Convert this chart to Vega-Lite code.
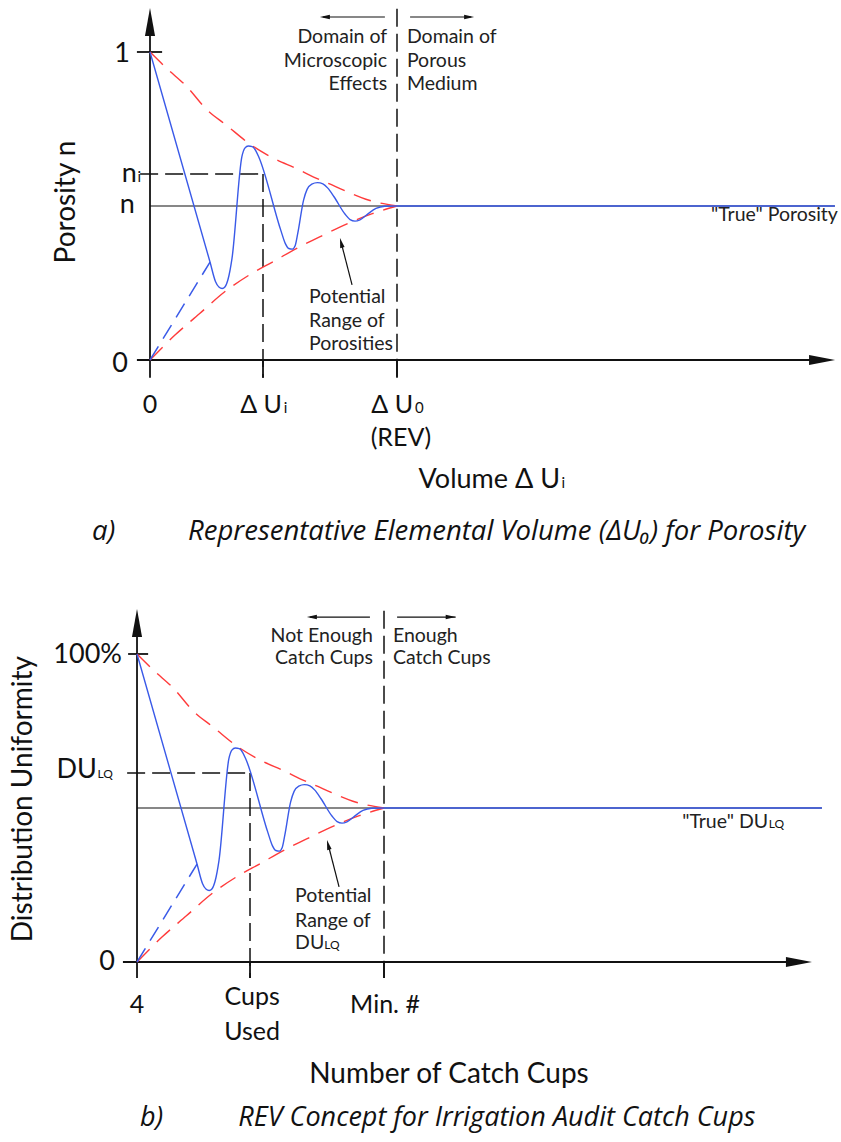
{
  "$schema": "https://vega.github.io/schema/vega-lite/v6.json",
  "padding": 0,
  "spacing": 0,
  "background": "white",
  "config": {"view": {"stroke": null}, "text": {"font": "Lato", "color": "#111"}},
  "resolve": {"scale": {"x": "independent", "y": "independent"}},
  "datasets": {
    "blue": [
      {"x": 0, "y": 1}, {"x": 0.243, "y": 0.318}, {"x": 0.265, "y": 0.255}, {"x": 0.28, "y": 0.236},
      {"x": 0.292, "y": 0.232}, {"x": 0.304, "y": 0.238}, {"x": 0.316, "y": 0.262}, {"x": 0.332, "y": 0.33},
      {"x": 0.372, "y": 0.66}, {"x": 0.384, "y": 0.688}, {"x": 0.398, "y": 0.695}, {"x": 0.414, "y": 0.693},
      {"x": 0.428, "y": 0.68}, {"x": 0.44, "y": 0.66}, {"x": 0.53, "y": 0.42}, {"x": 0.548, "y": 0.378},
      {"x": 0.562, "y": 0.362}, {"x": 0.576, "y": 0.36}, {"x": 0.588, "y": 0.372}, {"x": 0.598, "y": 0.41},
      {"x": 0.622, "y": 0.52}, {"x": 0.636, "y": 0.554}, {"x": 0.655, "y": 0.571}, {"x": 0.678, "y": 0.576},
      {"x": 0.7, "y": 0.572}, {"x": 0.72, "y": 0.558}, {"x": 0.745, "y": 0.53}, {"x": 0.79, "y": 0.473},
      {"x": 0.81, "y": 0.456}, {"x": 0.83, "y": 0.451}, {"x": 0.85, "y": 0.455}, {"x": 0.88, "y": 0.473},
      {"x": 0.915, "y": 0.492}, {"x": 0.95, "y": 0.499}, {"x": 1, "y": 0.5}, {"x": 2.773, "y": 0.5}
    ],
    "blueDash": [{"x": 0, "y": 0}, {"x": 0.243, "y": 0.318}],
    "envelope": [
      {"bound": "upper", "x": 0, "y": 1}, {"bound": "upper", "x": 0.07, "y": 0.945}, {"bound": "upper", "x": 0.146, "y": 0.89},
      {"bound": "upper", "x": 0.231, "y": 0.812}, {"bound": "upper", "x": 0.308, "y": 0.763}, {"bound": "upper", "x": 0.413, "y": 0.696},
      {"bound": "upper", "x": 0.5, "y": 0.655}, {"bound": "upper", "x": 0.591, "y": 0.622}, {"bound": "upper", "x": 0.688, "y": 0.585},
      {"bound": "upper", "x": 0.741, "y": 0.567}, {"bound": "upper", "x": 0.81, "y": 0.542}, {"bound": "upper", "x": 0.874, "y": 0.522},
      {"bound": "upper", "x": 1, "y": 0.5},
      {"bound": "lower", "x": 0, "y": 0}, {"bound": "lower", "x": 0.1, "y": 0.08}, {"bound": "lower", "x": 0.2, "y": 0.15},
      {"bound": "lower", "x": 0.3, "y": 0.22}, {"bound": "lower", "x": 0.4, "y": 0.275}, {"bound": "lower", "x": 0.5, "y": 0.32},
      {"bound": "lower", "x": 0.6, "y": 0.365}, {"bound": "lower", "x": 0.7, "y": 0.405}, {"bound": "lower", "x": 0.8, "y": 0.443},
      {"bound": "lower", "x": 0.9, "y": 0.475}, {"bound": "lower", "x": 1, "y": 0.5}
    ],
    "axesA": [
      {"x": 0, "y": -0.058, "x2": 0, "y2": 1.09},
      {"x": -0.053, "y": 0, "x2": 2.7, "y2": 0},
      {"x": -0.053, "y": 1, "x2": 0.049, "y2": 1},
      {"x": 0.4575, "y": 0, "x2": 0.4575, "y2": -0.058},
      {"x": 1, "y": 0, "x2": 1, "y2": -0.058}
    ],
    "thinA": [
      {"x": 0, "y": 0.5, "x2": 2.773, "y2": 0.5},
      {"x": 0.7, "y": 1.1136, "x2": 0.951, "y2": 1.1136},
      {"x": 1.053, "y": 1.1136, "x2": 1.3, "y2": 1.1136},
      {"x": 0.818, "y": 0.244, "x2": 0.776, "y2": 0.375}
    ],
    "dashA": [
      {"x": -0.04, "y": 0.604, "x2": 0.4575, "y2": 0.604},
      {"x": 0.4575, "y": 0.604, "x2": 0.4575, "y2": -0.058},
      {"x": 1, "y": 1.14, "x2": 1, "y2": -0.058}
    ],
    "textA": [
      {"kind": "ylabel", "x": -0.081, "y": 0.9675, "text": "1"},
      {"kind": "ylabel", "x": -0.053, "y": 0.578, "text": "n"},
      {"kind": "ylabel", "x": -0.061, "y": 0.477, "text": "n"},
      {"kind": "ylabel", "x": -0.089, "y": -0.039, "text": "0"},
      {"kind": "sub", "x": -0.051, "y": 0.578, "text": "i"},
      {"kind": "xlabel", "x": 0, "y": -0.172, "text": "0"},
      {"kind": "xlabel", "x": 1.016, "y": -0.279, "text": "(REV)"},
      {"kind": "xlabelR", "x": 0.534, "y": -0.172, "text": "Δ U"},
      {"kind": "xlabelR", "x": 1.065, "y": -0.172, "text": "Δ U"},
      {"kind": "titleR", "x": 1.66, "y": -0.416, "text": "Volume Δ U"},
      {"kind": "sub", "x": 0.541, "y": -0.172, "text": "i"},
      {"kind": "sub", "x": 1.073, "y": -0.172, "text": "0"},
      {"kind": "sub", "x": 1.666, "y": -0.416, "text": "i"},
      {"kind": "noteR", "x": 0.96, "y": 1.029, "text": "Domain of"},
      {"kind": "noteR", "x": 0.96, "y": 0.951, "text": "Microscopic"},
      {"kind": "noteR", "x": 0.96, "y": 0.877, "text": "Effects"},
      {"kind": "noteL", "x": 1.04, "y": 1.029, "text": "Domain of"},
      {"kind": "noteL", "x": 1.04, "y": 0.951, "text": "Porous"},
      {"kind": "noteL", "x": 1.04, "y": 0.877, "text": "Medium"},
      {"kind": "noteL", "x": 0.644, "y": 0.185, "text": "Potential"},
      {"kind": "noteL", "x": 0.644, "y": 0.107, "text": "Range of"},
      {"kind": "noteL", "x": 0.644, "y": 0.032, "text": "Porosities"},
      {"kind": "noteR", "x": 2.785, "y": 0.451, "text": "\"True\" Porosity"},
      {"kind": "ytitle", "x": -0.336, "y": 0.513, "text": "Porosity n"},
      {"kind": "caption", "x": -0.235, "y": -0.584, "text": "a)"},
      {"kind": "caption", "x": 0.154, "y": -0.584, "text": "Representative Elemental Volume (ΔU₀) for Porosity"}
    ],
    "yArrowA": [{"x": 0, "y": 1.097}],
    "xArrowA": [{"x": 2.721, "y": 0}],
    "leftArrowA": [{"x": 0.708, "y": 1.1136}],
    "rightArrowA": [{"x": 1.292, "y": 1.1136}],
    "leader": [{"x": 0.774, "y": 0.3805}],
    "axesB": [
      {"x": 0, "y": -0.052, "x2": 0, "y2": 1.09},
      {"x": -0.057, "y": 0, "x2": 2.66, "y2": 0},
      {"x": -0.036, "y": 1, "x2": 0.045, "y2": 1},
      {"x": 0.4575, "y": 0, "x2": 0.4575, "y2": -0.052},
      {"x": 1, "y": 0, "x2": 1, "y2": -0.052}
    ],
    "thinB": [
      {"x": 0, "y": 0.5, "x2": 2.773, "y2": 0.5},
      {"x": 0.7, "y": 1.12, "x2": 0.943, "y2": 1.12},
      {"x": 1.053, "y": 1.12, "x2": 1.29, "y2": 1.12},
      {"x": 0.818, "y": 0.244, "x2": 0.776, "y2": 0.375}
    ],
    "dashB": [
      {"x": -0.04, "y": 0.614, "x2": 0.4575, "y2": 0.614},
      {"x": 0.4575, "y": 0.614, "x2": 0.4575, "y2": -0.052},
      {"x": 1, "y": 1.14, "x2": 1, "y2": -0.052}
    ],
    "textB": [
      {"kind": "ylabel", "x": -0.061, "y": 0.971, "text": "100%"},
      {"kind": "ylabel", "x": -0.162, "y": 0.597, "text": "DU"},
      {"kind": "ylabel", "x": -0.089, "y": -0.026, "text": "0"},
      {"kind": "subsmall", "x": -0.16, "y": 0.597, "text": "LQ"},
      {"kind": "xlabel", "x": 0, "y": -0.166, "text": "4"},
      {"kind": "xlabel", "x": 0.466, "y": -0.14, "text": "Cups"},
      {"kind": "xlabel", "x": 0.466, "y": -0.253, "text": "Used"},
      {"kind": "xlabel", "x": 1.004, "y": -0.166, "text": "Min. #"},
      {"kind": "title", "x": 1.263, "y": -0.393, "text": "Number of Catch Cups"},
      {"kind": "noteR", "x": 0.955, "y": 1.039, "text": "Not Enough"},
      {"kind": "noteR", "x": 0.955, "y": 0.968, "text": "Catch Cups"},
      {"kind": "noteL", "x": 1.036, "y": 1.039, "text": "Enough"},
      {"kind": "noteL", "x": 1.036, "y": 0.968, "text": "Catch Cups"},
      {"kind": "noteL", "x": 0.64, "y": 0.195, "text": "Potential"},
      {"kind": "noteL", "x": 0.64, "y": 0.114, "text": "Range of"},
      {"kind": "noteL", "x": 0.64, "y": 0.042, "text": "DU"},
      {"kind": "subsmall", "x": 0.758, "y": 0.042, "text": "LQ"},
      {"kind": "noteR", "x": 2.555, "y": 0.435, "text": "\"True\" DU"},
      {"kind": "subsmall", "x": 2.558, "y": 0.435, "text": "LQ"},
      {"kind": "ytitle", "x": -0.457, "y": 0.529, "text": "Distribution Uniformity"},
      {"kind": "caption", "x": 0.012, "y": -0.532, "text": "b)"},
      {"kind": "caption", "x": 0.41, "y": -0.532, "text": "REV Concept for Irrigation Audit Catch Cups"}
    ],
    "yArrowB": [{"x": 0, "y": 1.101}],
    "xArrowB": [{"x": 2.68, "y": 0}],
    "leftArrowB": [{"x": 0.708, "y": 1.12}],
    "rightArrowB": [{"x": 1.27, "y": 1.12}]
  },
  "vconcat": [
    {
      "width": 841,
      "height": 570,
      "encoding": {
        "x": {"field": "x", "type": "quantitative", "scale": {"domain": [-0.6073, 2.7976], "nice": false, "zero": false}, "axis": null},
        "y": {"field": "y", "type": "quantitative", "scale": {"domain": [-0.6818, 1.1688], "nice": false, "zero": false}, "axis": null}
      },
      "layer": [
        {"data": {"name": "axesA"}, "mark": {"type": "rule", "stroke": "#111", "strokeWidth": 1.8}, "encoding": {"x2": {"field": "x2"}, "y2": {"field": "y2"}}},
        {"data": {"name": "thinA"}, "mark": {"type": "rule", "stroke": "#111", "strokeWidth": 1.2}, "encoding": {"x2": {"field": "x2"}, "y2": {"field": "y2"}}},
        {"data": {"name": "dashA"}, "mark": {"type": "rule", "stroke": "#111", "strokeWidth": 1.5, "strokeDash": [18, 7]}, "encoding": {"x2": {"field": "x2"}, "y2": {"field": "y2"}}},
        {"data": {"name": "envelope"}, "mark": {"type": "line", "stroke": "#ff3b3b", "strokeWidth": 1.4, "strokeDash": [18, 10], "interpolate": "monotone"}, "encoding": {"detail": {"field": "bound"}}},
        {"data": {"name": "blueDash"}, "mark": {"type": "line", "stroke": "#3a5ae8", "strokeWidth": 1.5, "strokeDash": [16, 9]}, "encoding": {}},
        {"data": {"name": "blue"}, "mark": {"type": "line", "stroke": "#3a5ae8", "strokeWidth": 1.4, "interpolate": "monotone"}, "encoding": {}},
        {"data": {"name": "yArrowA"}, "mark": {"type": "point", "shape": "M0,-1L0.36,1L-0.36,1Z", "size": 784, "filled": true, "color": "#111", "opacity": 1}},
        {"data": {"name": "xArrowA"}, "mark": {"type": "point", "shape": "M1,0L-1,0.38L-1,-0.38Z", "size": 676, "filled": true, "color": "#111", "opacity": 1}},
        {"data": {"name": "leftArrowA"}, "mark": {"type": "point", "shape": "M-1,0L1,0.45L1,-0.45Z", "size": 100, "filled": true, "color": "#111", "opacity": 1}},
        {"data": {"name": "rightArrowA"}, "mark": {"type": "point", "shape": "M1,0L-1,0.45L-1,-0.45Z", "size": 100, "filled": true, "color": "#111", "opacity": 1}},
        {"data": {"name": "leader"}, "mark": {"type": "point", "shape": "M0,-1L0.45,1L-0.45,1Z", "size": 100, "angle": -14, "filled": true, "color": "#111", "opacity": 1}},
        {"data": {"name": "textA"}, "transform": [{"filter": "datum.kind == 'ylabel'"}], "mark": {"type": "text", "align": "right", "baseline": "alphabetic", "fontSize": 27}, "encoding": {"text": {"field": "text"}}},
        {"data": {"name": "textA"}, "transform": [{"filter": "datum.kind == 'sub'"}], "mark": {"type": "text", "align": "left", "baseline": "alphabetic", "fontSize": 15}, "encoding": {"text": {"field": "text"}}},
        {"data": {"name": "textA"}, "transform": [{"filter": "datum.kind == 'xlabel'"}], "mark": {"type": "text", "align": "center", "baseline": "alphabetic", "fontSize": 25}, "encoding": {"text": {"field": "text"}}},
        {"data": {"name": "textA"}, "transform": [{"filter": "datum.kind == 'xlabelR'"}], "mark": {"type": "text", "align": "right", "baseline": "alphabetic", "fontSize": 25}, "encoding": {"text": {"field": "text"}}},
        {"data": {"name": "textA"}, "transform": [{"filter": "datum.kind == 'titleR'"}], "mark": {"type": "text", "align": "right", "baseline": "alphabetic", "fontSize": 27}, "encoding": {"text": {"field": "text"}}},
        {"data": {"name": "textA"}, "transform": [{"filter": "datum.kind == 'noteR'"}], "mark": {"type": "text", "align": "right", "baseline": "alphabetic", "fontSize": 19.5, "color": "#222"}, "encoding": {"text": {"field": "text"}}},
        {"data": {"name": "textA"}, "transform": [{"filter": "datum.kind == 'noteL'"}], "mark": {"type": "text", "align": "left", "baseline": "alphabetic", "fontSize": 19.5, "color": "#222"}, "encoding": {"text": {"field": "text"}}},
        {"data": {"name": "textA"}, "transform": [{"filter": "datum.kind == 'ytitle'"}], "mark": {"type": "text", "align": "center", "baseline": "middle", "fontSize": 28, "angle": 270}, "encoding": {"text": {"field": "text"}}},
        {"data": {"name": "textA"}, "transform": [{"filter": "datum.kind == 'caption'"}], "mark": {"type": "text", "align": "left", "baseline": "alphabetic", "fontSize": 27.5, "fontStyle": "italic", "font": "Open Sans"}, "encoding": {"text": {"field": "text"}}}
      ]
    },
    {
      "width": 841,
      "height": 572,
      "encoding": {
        "x": {"field": "x", "type": "quantitative", "scale": {"domain": [-0.5547, 2.8502], "nice": false, "zero": false}, "axis": null},
        "y": {"field": "y", "type": "quantitative", "scale": {"domain": [-0.5844, 1.2727], "nice": false, "zero": false}, "axis": null}
      },
      "layer": [
        {"data": {"name": "axesB"}, "mark": {"type": "rule", "stroke": "#111", "strokeWidth": 1.8}, "encoding": {"x2": {"field": "x2"}, "y2": {"field": "y2"}}},
        {"data": {"name": "thinB"}, "mark": {"type": "rule", "stroke": "#111", "strokeWidth": 1.2}, "encoding": {"x2": {"field": "x2"}, "y2": {"field": "y2"}}},
        {"data": {"name": "dashB"}, "mark": {"type": "rule", "stroke": "#111", "strokeWidth": 1.5, "strokeDash": [18, 7]}, "encoding": {"x2": {"field": "x2"}, "y2": {"field": "y2"}}},
        {"data": {"name": "envelope"}, "mark": {"type": "line", "stroke": "#ff3b3b", "strokeWidth": 1.4, "strokeDash": [18, 10], "interpolate": "monotone"}, "encoding": {"detail": {"field": "bound"}}},
        {"data": {"name": "blueDash"}, "mark": {"type": "line", "stroke": "#3a5ae8", "strokeWidth": 1.5, "strokeDash": [16, 9]}, "encoding": {}},
        {"data": {"name": "blue"}, "mark": {"type": "line", "stroke": "#3a5ae8", "strokeWidth": 1.4, "interpolate": "monotone"}, "encoding": {}},
        {"data": {"name": "yArrowB"}, "mark": {"type": "point", "shape": "M0,-1L0.36,1L-0.36,1Z", "size": 784, "filled": true, "color": "#111", "opacity": 1}},
        {"data": {"name": "xArrowB"}, "mark": {"type": "point", "shape": "M1,0L-1,0.38L-1,-0.38Z", "size": 676, "filled": true, "color": "#111", "opacity": 1}},
        {"data": {"name": "leftArrowB"}, "mark": {"type": "point", "shape": "M-1,0L1,0.45L1,-0.45Z", "size": 100, "filled": true, "color": "#111", "opacity": 1}},
        {"data": {"name": "rightArrowB"}, "mark": {"type": "point", "shape": "M1,0L-1,0.45L-1,-0.45Z", "size": 100, "filled": true, "color": "#111", "opacity": 1}},
        {"data": {"name": "leader"}, "mark": {"type": "point", "shape": "M0,-1L0.45,1L-0.45,1Z", "size": 100, "angle": -14, "filled": true, "color": "#111", "opacity": 1}},
        {"data": {"name": "textB"}, "transform": [{"filter": "datum.kind == 'ylabel'"}], "mark": {"type": "text", "align": "right", "baseline": "alphabetic", "fontSize": 27}, "encoding": {"text": {"field": "text"}}},
        {"data": {"name": "textB"}, "transform": [{"filter": "datum.kind == 'subsmall'"}], "mark": {"type": "text", "align": "left", "baseline": "alphabetic", "fontSize": 12}, "encoding": {"text": {"field": "text"}}},
        {"data": {"name": "textB"}, "transform": [{"filter": "datum.kind == 'xlabel'"}], "mark": {"type": "text", "align": "center", "baseline": "alphabetic", "fontSize": 25}, "encoding": {"text": {"field": "text"}}},
        {"data": {"name": "textB"}, "transform": [{"filter": "datum.kind == 'title'"}], "mark": {"type": "text", "align": "center", "baseline": "alphabetic", "fontSize": 28}, "encoding": {"text": {"field": "text"}}},
        {"data": {"name": "textB"}, "transform": [{"filter": "datum.kind == 'noteR'"}], "mark": {"type": "text", "align": "right", "baseline": "alphabetic", "fontSize": 19.5, "color": "#222"}, "encoding": {"text": {"field": "text"}}},
        {"data": {"name": "textB"}, "transform": [{"filter": "datum.kind == 'noteL'"}], "mark": {"type": "text", "align": "left", "baseline": "alphabetic", "fontSize": 19.5, "color": "#222"}, "encoding": {"text": {"field": "text"}}},
        {"data": {"name": "textB"}, "transform": [{"filter": "datum.kind == 'ytitle'"}], "mark": {"type": "text", "align": "center", "baseline": "middle", "fontSize": 28, "angle": 270}, "encoding": {"text": {"field": "text"}}},
        {"data": {"name": "textB"}, "transform": [{"filter": "datum.kind == 'caption'"}], "mark": {"type": "text", "align": "left", "baseline": "alphabetic", "fontSize": 27, "fontStyle": "italic", "font": "Open Sans"}, "encoding": {"text": {"field": "text"}}}
      ]
    }
  ]
}
